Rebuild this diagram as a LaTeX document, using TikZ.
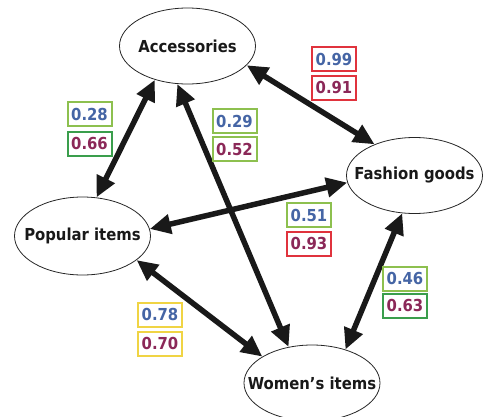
\documentclass[tikz,border=0pt]{standalone}
\usepackage{fontspec}
\setmainfont{DejaVu Sans Condensed}
\usetikzlibrary{shapes.geometric,arrows.meta}
\definecolor{lgreen}{HTML}{8DC04F}
\definecolor{dgreen}{HTML}{3A9E4C}
\definecolor{vred}{HTML}{E0333D}
\definecolor{vyellow}{HTML}{F0D444}
\definecolor{valblue}{HTML}{4565A5}
\definecolor{valmaroon}{HTML}{8B2858}
\newcommand{\zw}[1]{\makebox[0pt][c]{#1}}
\begin{document}
\begin{tikzpicture}[x=1pt,y=-1pt,
  ell/.style={ellipse,draw=black!85,line width=0.8pt,minimum width=136pt,minimum height=76pt,inner sep=0pt,font=\fontsize{16.5}{19}\bfseries\selectfont,text=black!90},
  link/.style={line width=5.5pt,draw=black!90,{Triangle[length=21pt,width=19pt]}-{Triangle[length=21pt,width=19pt]}},
  val/.style={draw,line width=2pt,minimum width=44pt,minimum height=24pt,inner sep=0pt,fill=white,font=\fontsize{16.5}{19}\bfseries\selectfont},
  bl/.style={val,text=valblue},
  mr/.style={val,text=valmaroon}]
\useasboundingbox (0,0) rectangle (483,416);
\clip (0,0) rectangle (483,416);
\node[ell] (acc) at (187.5,46) {\zw{Accessories}};
\node[ell] (fash) at (414.5,175.5) {\zw{Fashion goods}};
\node[ell,minimum height=78pt] (pop) at (82.5,236) {\zw{Popular items}};
\node[ell] (wom) at (312,383) {\zw{Women’s items}};

\draw[link] (acc.226.9) -- (pop.70.9);
\draw[link] (acc.255.2) -- (wom.123.7);
\draw[link] (acc.342.6) -- (fash.142.3);
\draw[link] (fash.186.6) -- (pop.6.8);
\draw[link] (pop.336.6) -- (wom.152.5);
\draw[link] (fash.252.9) -- (wom.45.8);

\node[bl,draw=lgreen] (a1) at (89.5,114) {0.28};
\node[mr,draw=dgreen] (a2) at (89.5,143.5) {0.66};
\node[bl,draw=lgreen] (b1) at (234.5,121) {0.29};
\node[mr,draw=lgreen] (b2) at (234.5,149) {0.52};
\node[bl,draw=vred] (c1) at (334,59) {0.99};
\node[mr,draw=vred] (c2) at (334,87.5) {0.91};
\node[bl,draw=lgreen] (d1) at (309,215) {0.51};
\node[mr,draw=vred] (d2) at (309,243.5) {0.93};
\node[bl,draw=vyellow] (e1) at (160,314.5) {0.78};
\node[mr,draw=vyellow] (e2) at (160,343.5) {0.70};
\node[bl,draw=lgreen] (f1) at (405,278.5) {0.46};
\node[mr,draw=dgreen] (f2) at (405,305.5) {0.63};
\end{tikzpicture}
\end{document}
